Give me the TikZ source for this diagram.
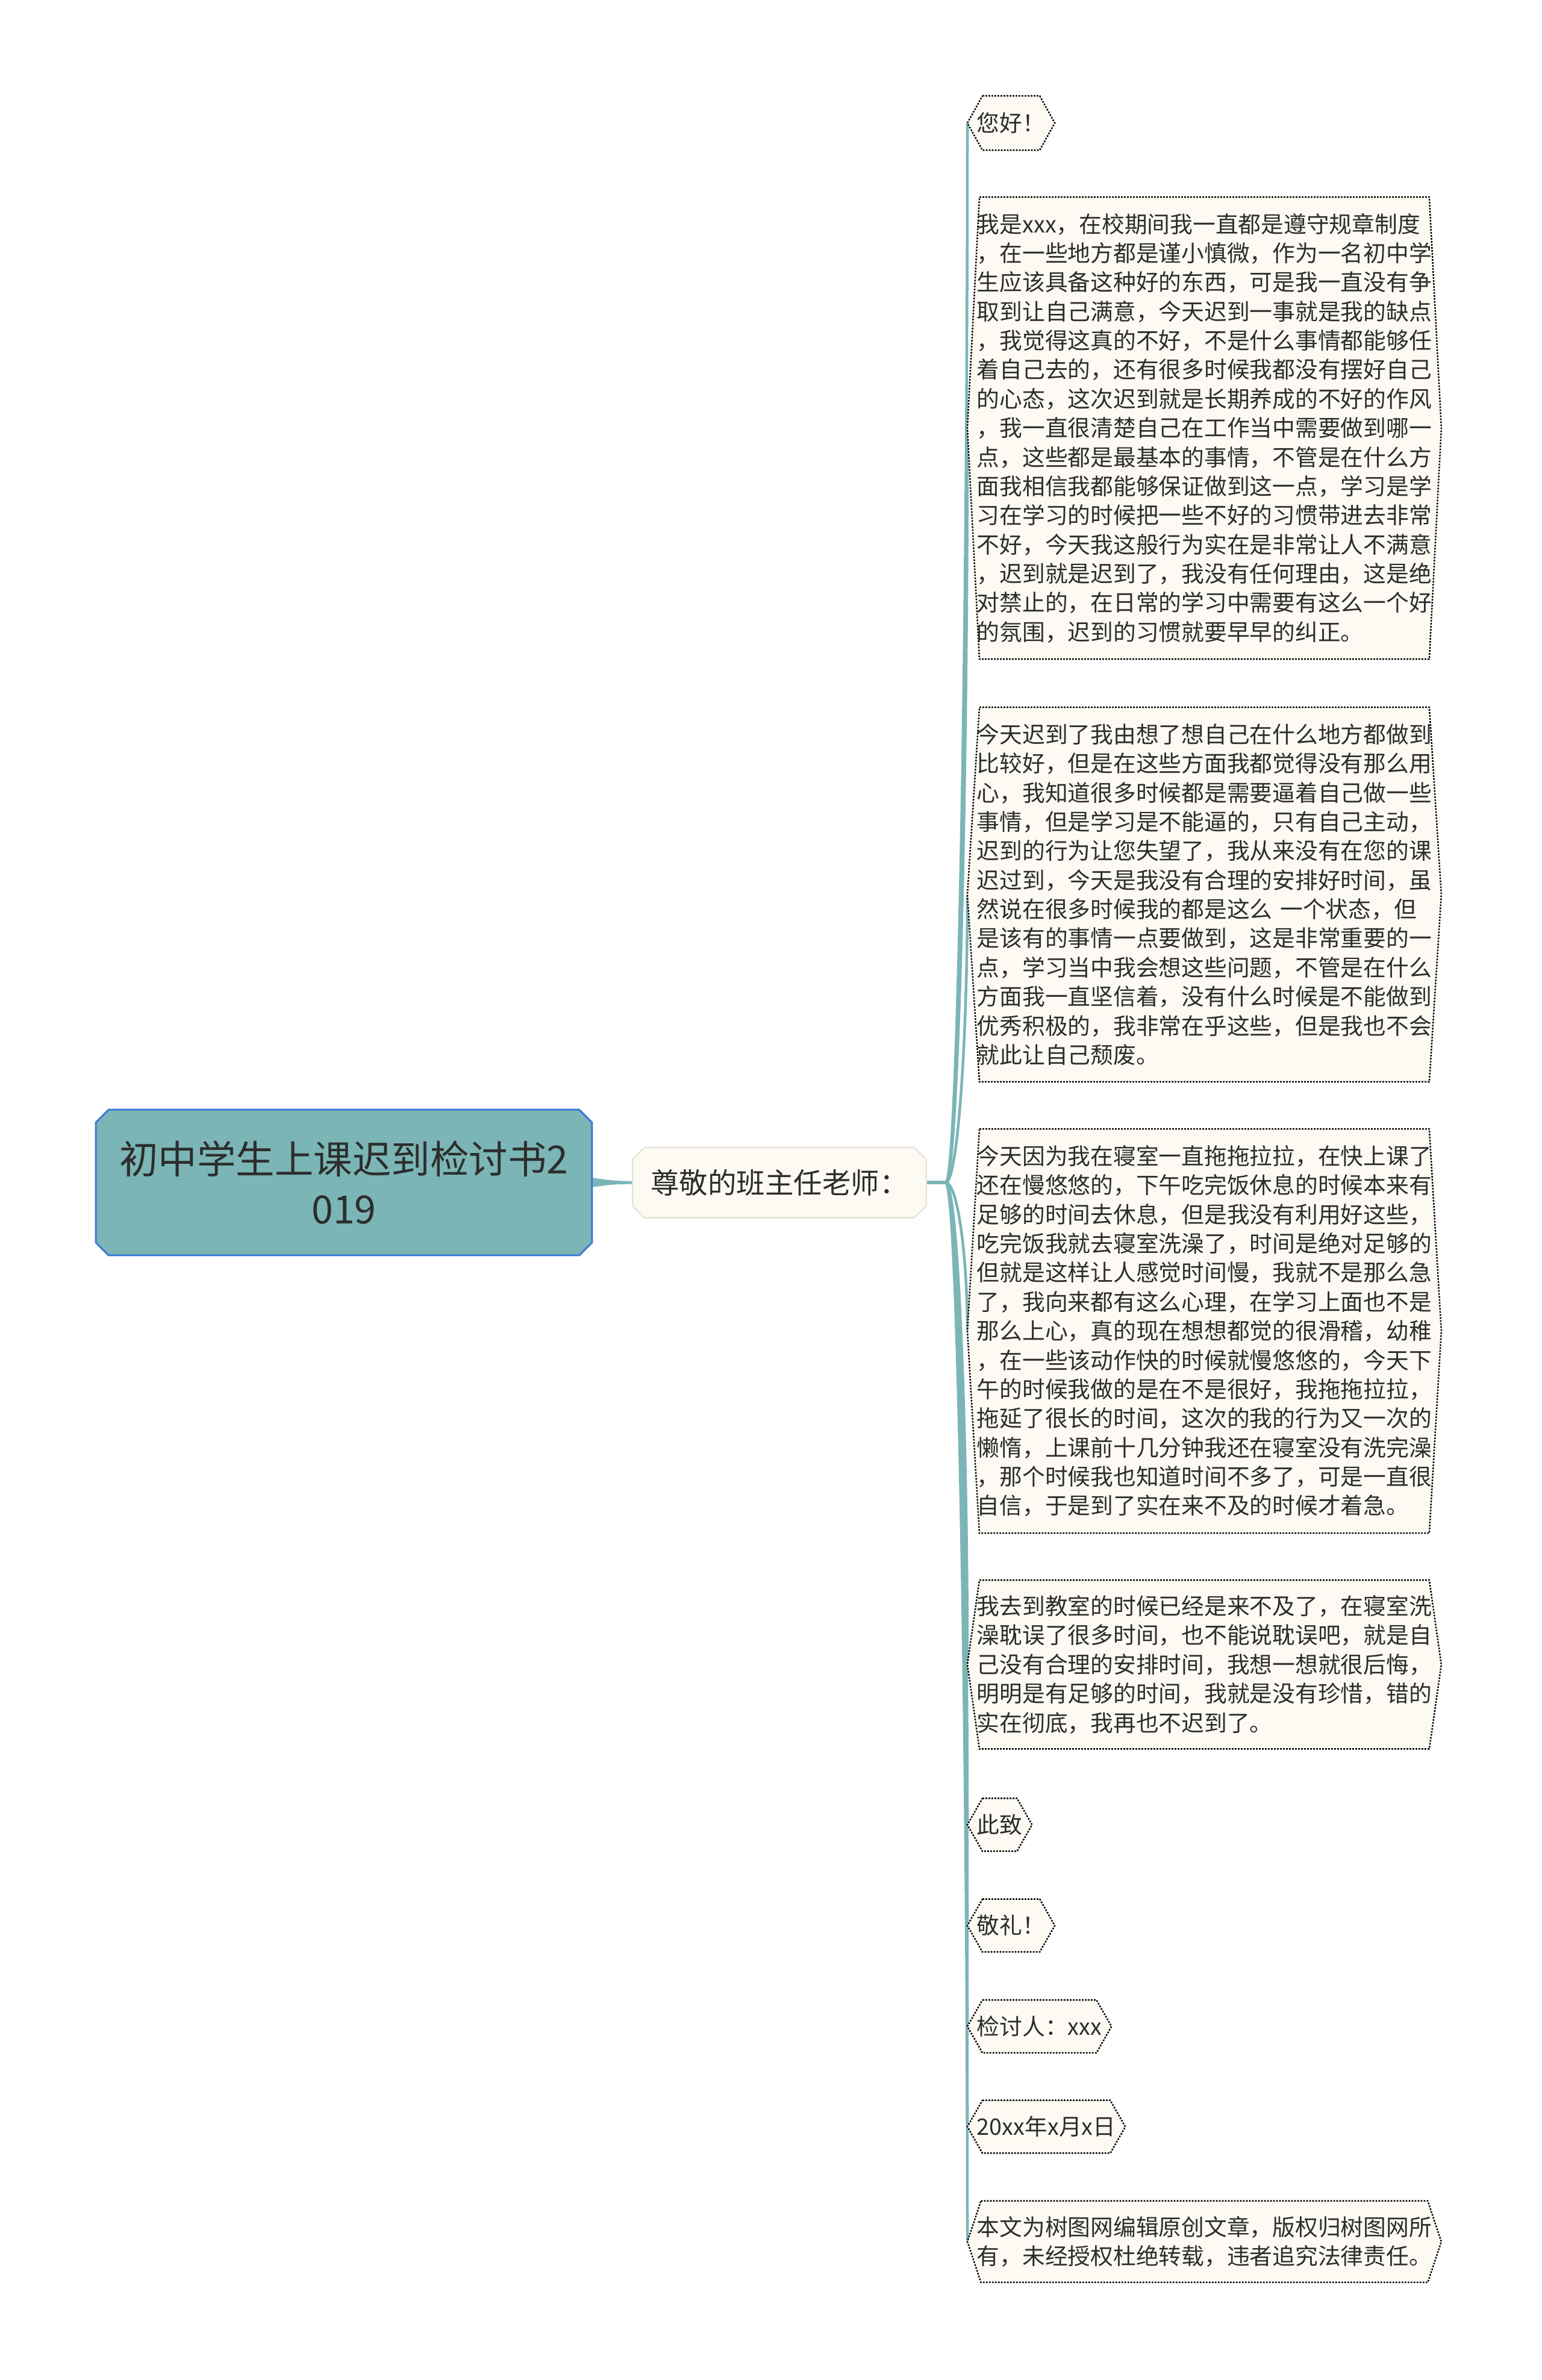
\documentclass[tikz,border=0pt]{standalone}
\usepackage{fontspec}
\setmainfont{Noto Sans CJK SC}
\usetikzlibrary{calc,backgrounds}

\definecolor{mapteal}{RGB}{123,181,181}
\definecolor{rootblue}{RGB}{58,123,213}
\definecolor{paper}{RGB}{252,250,242}
\definecolor{paperedge}{RGB}{232,228,216}
\definecolor{inkgray}{RGB}{45,45,45}

\tikzset{every picture/.style={line width=0.75pt}}
\tikzset{
  topic/.style={inner sep=0pt, align=center, text=inkgray, font=\fontsize{25.8pt}{33.3pt}\selectfont},
  subtopic/.style={inner sep=0pt, text=inkgray, font=\fontsize{19pt}{23pt}\selectfont},
  leaf/.style={anchor=west, inner xsep=6pt, inner ysep=0pt, minimum height=34.4pt, text=inkgray, font=\fontsize{15.1pt}{19.35pt}\selectfont},
  para/.style={leaf, text width=302pt, align=left},
  branch/.style={draw=mapteal, fill=none, line width=1.8pt},
  topicbox/.style={fill=mapteal, draw=rootblue, line width=1.2pt},
  subbox/.style={fill=paper, draw=paperedge, line width=1pt},
  leafbox/.style={fill=paper, draw=black, line width=1pt, dash pattern=on 1.1pt off 0.9pt}
}

\begin{document}
\begin{tikzpicture}[x=1pt,y=1pt,yscale=-1,xscale=1]
\useasboundingbox (0,0) rectangle (1024,1580.4);

% Central topic
\node[topic, minimum width=328.8pt, minimum height=96pt] (root) at (228.4,785.2) {初中学生上课迟到检讨书2\\019};
% Greeting topic
\node[subtopic, minimum width=194.4pt, minimum height=46pt] (sub) at (517.6,785.3) {尊敬的班主任老师：};
\coordinate (fork) at (628,785.3);

% Letter parts
\node[leaf, minimum height=35.3pt] (hello) at (642.4,81.7) {您好！};
\node[para, minimum height=306.1pt] (p1) at (642.4,284.25) {我是xxx，在校期间我一直都是遵守规章制度\\
，在一些地方都是谨小慎微，作为一名初中学\\
生应该具备这种好的东西，可是我一直没有争\\
取到让自己满意，今天迟到一事就是我的缺点\\
，我觉得这真的不好，不是什么事情都能够任\\
着自己去的，还有很多时候我都没有摆好自己\\
的心态，这次迟到就是长期养成的不好的作风\\
，我一直很清楚自己在工作当中需要做到哪一\\
点，这些都是最基本的事情，不管是在什么方\\
面我相信我都能够保证做到这一点，学习是学\\
习在学习的时候把一些不好的习惯带进去非常\\
不好，今天我这般行为实在是非常让人不满意\\
，迟到就是迟到了，我没有任何理由，这是绝\\
对禁止的，在日常的学习中需要有这么一个好\\
的氛围，迟到的习惯就要早早的纠正。};
\node[para, minimum height=248pt] (p2) at (642.4,594) {今天迟到了我由想了想自己在什么地方都做到\\
比较好，但是在这些方面我都觉得没有那么用\\
心，我知道很多时候都是需要逼着自己做一些\\
事情，但是学习是不能逼的，只有自己主动，\\
迟到的行为让您失望了，我从来没有在您的课\\
迟过到，今天是我没有合理的安排好时间，虽\\
然说在很多时候我的都是这么 一个状态，但\\
是该有的事情一点要做到，这是非常重要的一\\
点，学习当中我会想这些问题，不管是在什么\\
方面我一直坚信着，没有什么时候是不能做到\\
优秀积极的，我非常在乎这些，但是我也不会\\
就此让自己颓废。};
\node[para, minimum height=267.7pt] (p3) at (642.4,883.85) {今天因为我在寝室一直拖拖拉拉，在快上课了\\
还在慢悠悠的，下午吃完饭休息的时候本来有\\
足够的时间去休息，但是我没有利用好这些，\\
吃完饭我就去寝室洗澡了，时间是绝对足够的\\
但就是这样让人感觉时间慢，我就不是那么急\\
了，我向来都有这么心理，在学习上面也不是\\
那么上心，真的现在想想都觉的很滑稽，幼稚\\
，在一些该动作快的时候就慢悠悠的，今天下\\
午的时候我做的是在不是很好，我拖拖拉拉，\\
拖延了很长的时间，这次的我的行为又一次的\\
懒惰，上课前十几分钟我还在寝室没有洗完澡\\
，那个时候我也知道时间不多了，可是一直很\\
自信，于是到了实在来不及的时候才着急。};
\node[para, minimum height=111.4pt] (p4) at (642.4,1105.3) {我去到教室的时候已经是来不及了，在寝室洗\\
澡耽误了很多时间，也不能说耽误吧，就是自\\
己没有合理的安排时间，我想一想就很后悔，\\
明明是有足够的时间，我就是没有珍惜，错的\\
实在彻底，我再也不迟到了。};
\node[leaf] (cz) at (642.4,1211.7) {此致};
\node[leaf] (jl) at (642.4,1278.6) {敬礼！};
\node[leaf] (jtr) at (642.4,1345.6) {检讨人：xxx};
\node[leaf] (date) at (642.4,1412.2) {20xx年x月x日};
\node[para, minimum height=53.3pt] (note) at (642.4,1488.5) {本文为树图网编辑原创文章，版权归树图网所\\
有，未经授权杜绝转载，违者追究法律责任。};

\begin{pgfonlayer}{background}
% Connectors
\fill[mapteal] ($(root.east)+(-2,-3.4)$) .. controls ($(root.east)+(14,-1.2)$) .. ($(sub.west)+(1,-0.9)$) -- ($(sub.west)+(1,0.9)$) .. controls ($(root.east)+(14,1.2)$) .. ($(root.east)+(-2,3.4)$) -- cycle;
\draw[branch, line width=2.3pt] (sub.east) -- (fork);
\foreach \c in {hello,p1,p2,p3,p4,cz,jl,jtr,date,note}
  \draw[branch] (fork) .. controls +(8,0) and ($(\c.west)!0.5!(\c.west |- fork)$) .. (\c.west);

% Topic shapes
\foreach \c/\k/\s in {root/8.5/topicbox,sub/8/subbox}
  \filldraw[\s] ($(\c.north west)+(\k,0)$) -- ($(\c.north east)+(-\k,0)$) -- ($(\c.north east)+(0,\k)$) -- ($(\c.south east)+(0,-\k)$) -- ($(\c.south east)+(-\k,0)$) -- ($(\c.south west)+(\k,0)$) -- ($(\c.south west)+(0,-\k)$) -- ($(\c.north west)+(0,\k)$) -- cycle;

% Leaf shapes
\foreach \c/\k in {hello/10,p1/8,p2/8,p3/8,p4/8,cz/10,jl/10,jtr/10,date/10,note/9}
  \filldraw[leafbox] ($(\c.north west)+(\k,0)$) -- ($(\c.north east)+(-\k,0)$) -- (\c.east) -- ($(\c.south east)+(-\k,0)$) -- ($(\c.south west)+(\k,0)$) -- (\c.west) -- cycle;
\end{pgfonlayer}

\end{tikzpicture}
\end{document}
